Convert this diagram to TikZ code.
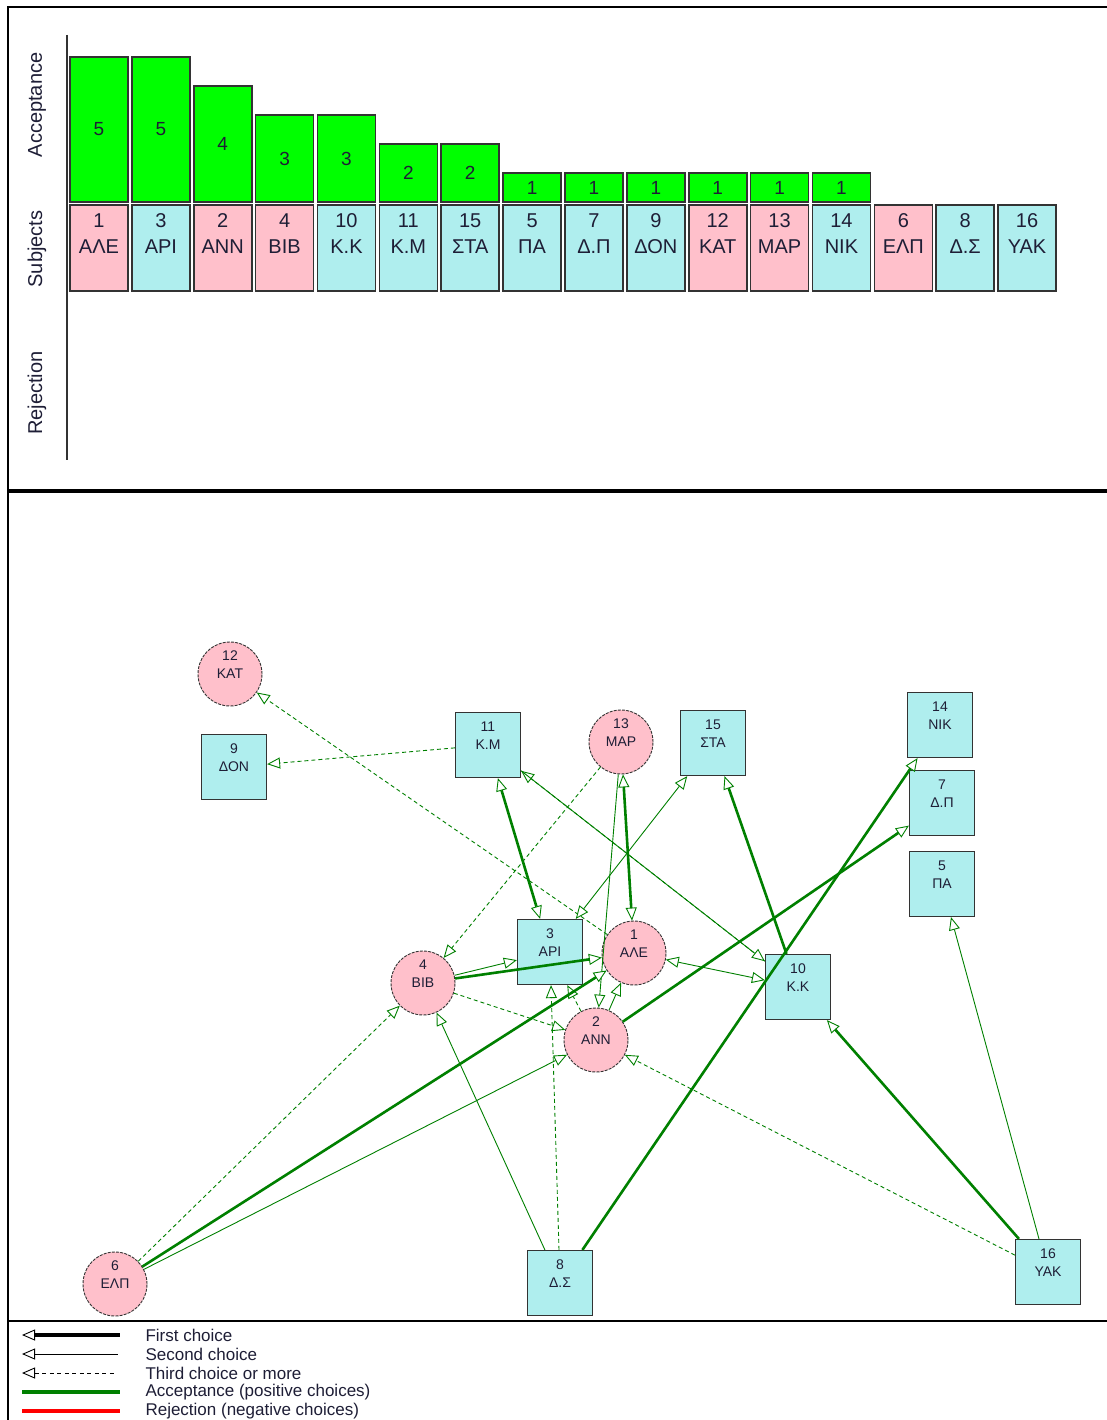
\documentclass[tikz,border=0pt]{standalone}
\usepackage{fontspec}
\setmainfont{Liberation Sans}
\usetikzlibrary{arrows.meta}
\pgfdeclarelayer{bg}
\pgfsetlayers{bg,main}
\definecolor{pinkf}{HTML}{FFC0CB}
\definecolor{cyanf}{HTML}{AFEEEE}
\definecolor{barg}{HTML}{00FF00}
\definecolor{edgeg}{HTML}{008000}
\definecolor{bord}{HTML}{333333}
\definecolor{txt}{HTML}{1E1E36}
\begin{document}
\begin{tikzpicture}[x=1pt,y=-1pt,
  >={Triangle[open,fill=white,length=13pt,width=11pt,line width=0.9pt]},
  sq/.style={rectangle,draw=bord,line width=1.2pt,fill=cyanf,minimum size=65pt,inner sep=0pt},
  ci/.style={circle,draw=bord,line width=0.9pt,dash pattern=on 3pt off 1.2pt,fill=pinkf,minimum size=64pt,inner sep=0pt},
  lbl/.style={font=\fontsize{14}{18}\selectfont,align=center,text=txt,yshift=9pt},
  cfirst/.style={draw=edgeg,line width=2.6pt,->},
  csecond/.style={draw=edgeg,line width=0.9pt,->},
  cthird/.style={draw=edgeg,line width=0.9pt,dash pattern=on 4pt off 3pt,->},
  cmutfirst/.style={draw=edgeg,line width=2.6pt,<->},
  cmutsecond/.style={draw=edgeg,line width=0.9pt,<->},
  chtxt/.style={font=\fontsize{20}{26}\selectfont,align=center,text=txt},
  legtxt/.style={font=\fontsize{17}{18}\selectfont,anchor=west,text=txt}]
\useasboundingbox (0,0) rectangle (1106,1420);
\fill[white] (0,0) rectangle (1106,1420);
% panels
\draw[black,line width=1.6pt] (1120,7) -- (8,7) -- (8,490) -- (1120,490);
\draw[black,line width=1.6pt] (1120,492) -- (8,492) -- (8,1425);
\draw[black,line width=1.2pt] (8,1321) -- (1120,1321);
% axis
\draw[bord,line width=2pt] (67,35) -- (67,460);
\node[rotate=90,font=\fontsize{20}{24}\selectfont,text=txt] (axA) at (37,105) {Acceptance};
\node[rotate=90,font=\fontsize{20}{24}\selectfont,text=txt] (axS) at (37,249) {Subjects};
\node[rotate=90,font=\fontsize{20}{24}\selectfont,text=txt] (axR) at (37,393) {Rejection};
% chart
\foreach \i/\num/\nm/\col/\cnt in {0/1/ΑΛΕ/pinkf/5,1/3/ΑΡΙ/cyanf/5,2/2/ΑΝΝ/pinkf/4,3/4/ΒΙΒ/pinkf/3,4/10/Κ.Κ/cyanf/3,5/11/Κ.Μ/cyanf/2,6/15/ΣΤΑ/cyanf/2,7/5/ΠΑ/cyanf/1,8/7/Δ.Π/cyanf/1,9/9/ΔΟΝ/cyanf/1,10/12/ΚΑΤ/pinkf/1,11/13/ΜΑΡ/pinkf/1,12/14/ΝΙΚ/cyanf/1,13/6/ΕΛΠ/pinkf/0,14/8/Δ.Σ/cyanf/0,15/16/ΥΑΚ/cyanf/0}{
  \pgfmathsetmacro\xl{70+61.87*\i}
  \pgfmathsetmacro\xr{\xl+58}
  \pgfmathsetmacro\xc{\xl+29}
  \draw[bord,line width=1.6pt,fill=\col] (\xl,205) rectangle (\xr,291);
  \node[chtxt] at (\xc,234) {\num\\\nm};
  \ifnum\cnt>0
    \pgfmathsetmacro\yt{202-29*\cnt}
    \pgfmathsetmacro\ym{(\yt+202)/2}
    \draw[bord,line width=1.6pt,fill=barg] (\xl,\yt) rectangle (\xr,202);
    \node[font=\fontsize{19}{22}\selectfont,text=txt] at (\xc,\ym) {\cnt};
  \fi
}
% graph nodes
\node[ci] (n12) at (230,674) {};
\node[sq] (n9) at (234,767) {};
\node[sq] (n11) at (488,745) {};
\node[ci] (n13) at (621,742) {};
\node[sq] (n15) at (713,743) {};
\node[sq] (n14) at (940,725) {};
\node[sq] (n7) at (942,803) {};
\node[sq] (n5) at (942,884) {};
\node[sq] (n3) at (550,952) {};
\node[ci] (n1) at (634,953) {};
\node[ci] (n4) at (423,983) {};
\node[sq] (n10) at (798,987) {};
\node[ci] (n2) at (596,1040) {};
\node[ci] (n6) at (115,1284) {};
\node[sq] (n8) at (560,1283) {};
\node[sq] (n16) at (1048,1272) {};
\node[lbl] at (n12.center) {12\\ΚΑΤ};
\node[lbl] at (n9.center) {9\\ΔΟΝ};
\node[lbl] at (n11.center) {11\\Κ.Μ};
\node[lbl] at (n13.center) {13\\ΜΑΡ};
\node[lbl] at (n15.center) {15\\ΣΤΑ};
\node[lbl] at (n14.center) {14\\ΝΙΚ};
\node[lbl] at (n7.center) {7\\Δ.Π};
\node[lbl] at (n5.center) {5\\ΠΑ};
\node[lbl] at (n3.center) {3\\ΑΡΙ};
\node[lbl] at (n1.center) {1\\ΑΛΕ};
\node[lbl] at (n4.center) {4\\ΒΙΒ};
\node[lbl] at (n10.center) {10\\Κ.Κ};
\node[lbl] at (n2.center) {2\\ΑΝΝ};
\node[lbl] at (n6.center) {6\\ΕΛΠ};
\node[lbl] at (n8.center) {8\\Δ.Σ};
\node[lbl] at (n16.center) {16\\ΥΑΚ};
% edges
\begin{pgfonlayer}{bg}
\draw[cthird] (n3) -- (n10);
\end{pgfonlayer}
\draw[cthird] (n1) -- (n12);
\draw[cthird] (n11) -- (n9);
\draw[cthird] (n10) -- (n11);
\draw[csecond] (n11) -- (n10);
\draw[cmutfirst] (n11) -- (n3);
\draw[cmutfirst] (n13) -- (n1);
\draw[csecond] (n13) -- (n2);
\draw[cthird] (n13) -- (n4);
\draw[cmutsecond] (n3) -- (n15);
\draw[cmutsecond] (n1) -- (n10);
\draw[cfirst] (n10) -- (n15);
\draw[csecond] (n4) -- (n3);
\draw[cfirst] (n4) -- (n1);
\draw[cthird] (n4) -- (n2);
\draw[csecond] (n2) -- (n1);
\draw[cthird] (n2) -- (n3);
\draw[cfirst] (n2) -- (n7);
\draw[cthird] (n6) -- (n4);
\draw[cfirst] (n6) -- (n1);
\draw[csecond] (n6) -- (n2);
\draw[csecond] (n8) -- (n4);
\draw[cthird] (n8) -- (n3);
\draw[cfirst] (n8) -- (n14);
\draw[cfirst] (n16) -- (n10);
\draw[csecond] (n16) -- (n5);
\draw[cthird] (n16) -- (n2);
% legend
\coordinate (la1) at (22,1335); \coordinate (lb1) at (120,1335);
\coordinate (la2) at (22,1354); \coordinate (lb2) at (118,1354);
\coordinate (la3) at (22,1373); \coordinate (lb3) at (116,1373);
\coordinate (la4) at (22,1392); \coordinate (lb4) at (120,1392);
\coordinate (la5) at (22,1411); \coordinate (lb5) at (120,1411);
\draw[black,line width=3.2pt,<-] (la1) -- (lb1);
\draw[black,line width=1pt,<-] (la2) -- (lb2);
\draw[black,line width=1pt,dash pattern=on 4pt off 3.5pt,<-] (la3) -- (lb3);
\draw[edgeg,line width=3.2pt] (la4) -- (lb4);
\draw[red,line width=3.2pt] (la5) -- (lb5);
\node[legtxt] (t1) at (142,1335) {First choice};
\node[legtxt] (t2) at (142,1354) {Second choice};
\node[legtxt] (t3) at (142,1373) {Third choice or more};
\node[legtxt] (t4) at (142,1392) {Acceptance (positive choices)};
\node[legtxt] (t5) at (142,1411) {Rejection (negative choices)};
\end{tikzpicture}
\end{document}
